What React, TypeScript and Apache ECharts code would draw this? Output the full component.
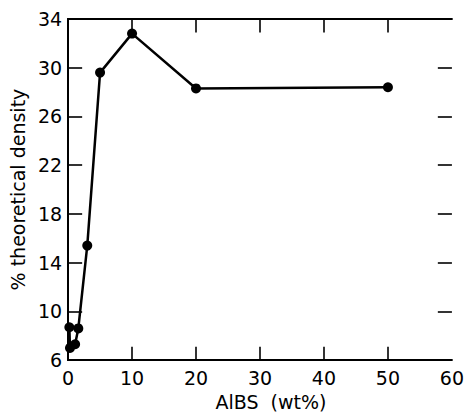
import React, { useEffect, useRef } from "react";
import * as echarts from "echarts";

const xValues = [0.2, 0.3, 1.1, 1.6, 3, 5, 10, 20, 50];
const yValues = [8.7, 7.0, 7.3, 8.6, 15.4, 29.6, 32.8, 28.3, 28.4];
const xTicks = [10, 20, 30, 40, 50];
const yTicks = [6, 10, 14, 18, 22, 26, 30, 34];
const yInnerTicks = [10, 14, 18, 22, 26, 30];
const xName = "AlBS  (wt%)";
const yName = "% theoretical density";

const FONT = "DejaVu Sans";
const X_MIN = 0;
const X_MAX = 60;
const Y_MIN = 6;
const Y_MAX = 34;
// tick lengths in data units (≈14 px)
const X_TICK_LEN = 2.2;
const Y_TICK_LEN = 1.1;

export default function App() {
  const ref = useRef<HTMLDivElement>(null);
  useEffect(() => {
    if (!ref.current) return;
    const chart = echarts.init(ref.current, undefined, { renderer: "svg" });
    const lineStyle = { color: "#000", width: 2 };
    const tickLines: any[] = [];
    xTicks.forEach((v) => {
      tickLines.push([{ coord: [v, Y_MIN] }, { coord: [v, Y_MIN + Y_TICK_LEN] }]);
      tickLines.push([{ coord: [v, Y_MAX] }, { coord: [v, Y_MAX - Y_TICK_LEN] }]);
    });
    yInnerTicks.forEach((v) => {
      tickLines.push([{ coord: [X_MIN, v] }, { coord: [X_MIN + X_TICK_LEN, v] }]);
      tickLines.push([{ coord: [X_MAX, v] }, { coord: [X_MAX - X_TICK_LEN, v] }]);
    });
    chart.setOption({
      animation: false,
      backgroundColor: "#fff",
      grid: { left: 68, right: 15, top: 19, bottom: 49, containLabel: false },
      xAxis: [
        {
          type: "value",
          min: X_MIN,
          max: X_MAX,
          interval: 10,
          position: "bottom",
          splitLine: { show: false },
          axisLine: { show: true, lineStyle },
          axisTick: { show: false },
          name: xName,
          nameLocation: "middle",
          nameGap: 25,
          nameTextStyle: {
            fontFamily: FONT,
            fontSize: 19,
            color: "#000",
            padding: [0, 0, 0, 22],
          },
          axisLabel: { fontFamily: FONT, fontSize: 19, color: "#000", margin: 8 },
        },
        {
          type: "value",
          min: X_MIN,
          max: X_MAX,
          interval: 10,
          position: "top",
          splitLine: { show: false },
          axisLine: { show: true, lineStyle },
          axisTick: { show: false },
          axisLabel: { show: false },
        },
      ],
      yAxis: [
        {
          type: "value",
          min: Y_MIN,
          max: Y_MAX,
          interval: 2,
          position: "left",
          splitLine: { show: false },
          axisLine: { show: true, lineStyle },
          axisTick: { show: false },
          name: yName,
          nameLocation: "middle",
          nameGap: 32,
          nameRotate: 90,
          nameTextStyle: { fontFamily: FONT, fontSize: 19, color: "#000" },
          axisLabel: {
            fontFamily: FONT,
            fontSize: 19,
            color: "#000",
            margin: 6,
            customValues: yTicks,
          },
        },
        {
          type: "value",
          min: Y_MIN,
          max: Y_MAX,
          interval: 2,
          position: "right",
          splitLine: { show: false },
          axisLine: { show: true, lineStyle },
          axisTick: { show: false },
          axisLabel: { show: false },
        },
      ],
      series: [
        {
          type: "line",
          xAxisIndex: 0,
          yAxisIndex: 0,
          z: 6,
          clip: false,
          data: xValues.map((x, i) => [x, yValues[i]]),
          symbol: "circle",
          symbolSize: 10,
          itemStyle: { color: "#000" },
          lineStyle: { color: "#000", width: 2.5 },
          markLine: {
            silent: true,
            symbol: ["none", "none"],
            label: { show: false },
            lineStyle: { color: "#000", width: 1.6, type: "solid" },
            data: tickLines,
          },
        },
      ],
    });
    return () => chart.dispose();
  }, []);
  return (
    <div
      ref={ref}
      style={{ position: "absolute", left: 0, top: 0, width: 467, height: 416 }}
    />
  );
}
